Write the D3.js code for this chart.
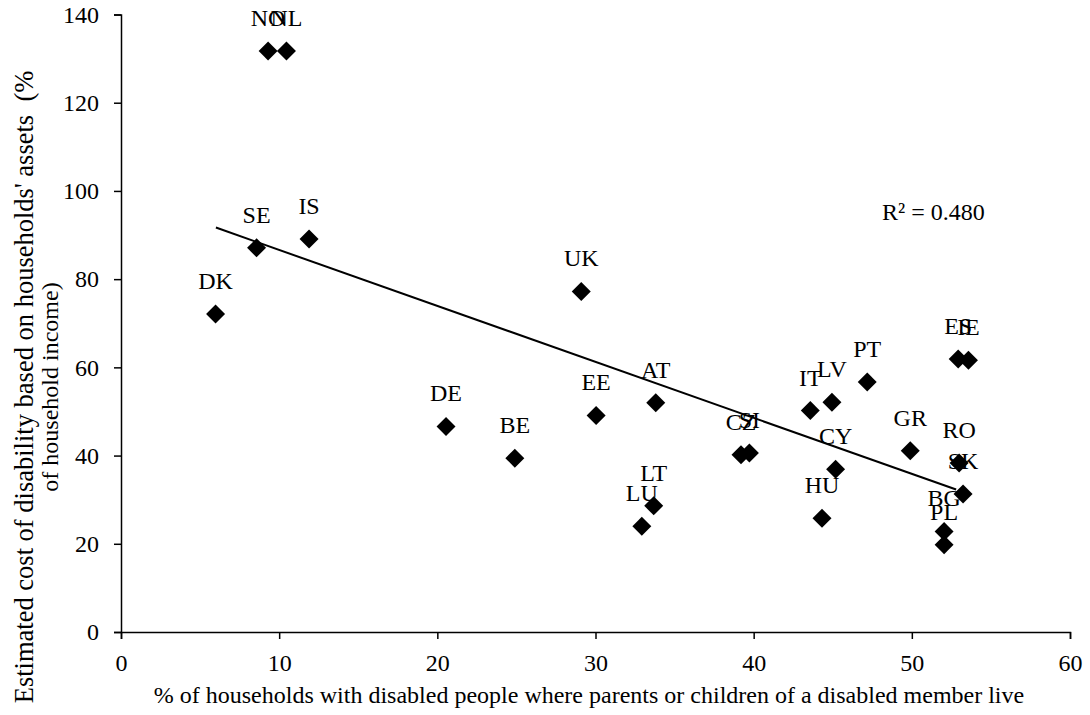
<!DOCTYPE html>
<html>
<head>
<meta charset="utf-8">
<script src="https://cdn.jsdelivr.net/npm/d3@7"></script>
<style>
  body { margin: 0; background: #fff; }
  text { font-family: "Liberation Serif", "Times New Roman", serif; }
</style>
</head>
<body>
<div id="chart"></div>
<script>
// data
var countries = ["DK", "SE", "NO", "NL", "IS", "UK", "DE", "BE", "EE", "AT", "LU", "LT", "CZ",
                 "SI", "IT", "LV", "CY", "HU", "PT", "GR", "ES", "IE", "RO", "SK", "BG", "PL"];
var shareLivingTogether = [5.98, 8.57, 9.30, 10.46, 11.89, 29.10, 20.55, 24.90, 30.04, 33.81, 32.93, 33.68, 39.20,
                           39.73, 43.58, 44.95, 45.18, 44.32, 47.18, 49.90, 52.93, 53.58, 52.99, 53.24, 52.04, 52.04];
var costOfDisability = [72.1, 87.1, 131.7, 131.7, 89.1, 77.2, 46.6, 39.4, 49.1, 52.0, 24.0, 28.6, 40.2,
                        40.6, 50.2, 52.1, 36.9, 25.8, 56.7, 41.1, 61.9, 61.6, 38.3, 31.3, 22.8, 19.8];
var xTicks = [0, 10, 20, 30, 40, 50, 60];
var yTicks = [0, 20, 40, 60, 80, 100, 120, 140];
var trendX = [6.0, 52.8];
var trendY = [91.7, 32.3];
var rSquaredLabel = "R\u00b2 = 0.480";

var width = 1090,
    height = 715,
    plot_left = 121,
    plot_right = 1070,
    plot_top = 14.5,
    plot_bottom = 632,
    tick_size = 7,
    font_size = 24,
    marker_size = 180;

var points = countries.map(function(c, i) {
    return {name: c, x: shareLivingTogether[i], y: costOfDisability[i]};
});

var svg = d3.select("#chart").append("svg")
    .attr("width", width)
    .attr("height", height);

var x = d3.scaleLinear().domain([0, 60]).range([plot_left, plot_right]);
var y = d3.scaleLinear().domain([0, 140]).range([plot_bottom, plot_top]);

// axes
var xAxis = d3.axisBottom(x).tickValues(xTicks).tickSize(tick_size).tickPadding(15);
var yAxis = d3.axisLeft(y).tickValues(yTicks).tickSize(tick_size).tickPadding(15);
svg.append("g")
    .attr("transform", "translate(0," + plot_bottom + ")")
    .call(xAxis);
svg.append("g")
    .attr("transform", "translate(" + plot_left + ",0)")
    .call(yAxis);
svg.selectAll(".domain, .tick line")
    .attr("stroke", "#000")
    .attr("stroke-width", 1.5);
svg.selectAll(".tick text")
    .attr("font-family", "Liberation Serif")
    .attr("font-size", font_size)
    .attr("fill", "#000");

// trend line
var line = d3.line()
    .x(function(d) { return x(d[0]); })
    .y(function(d) { return y(d[1]); });
svg.append("path")
    .attr("d", line(d3.zip(trendX, trendY)))
    .attr("fill", "none")
    .attr("stroke", "#000")
    .attr("stroke-width", 2);

// markers
svg.append("g").selectAll("path")
    .data(points)
    .join("path")
    .attr("d", d3.symbol().type(d3.symbolSquare).size(marker_size))
    .attr("transform", function(d) { return "translate(" + x(d.x) + "," + y(d.y) + ") rotate(45)"; })
    .attr("fill", "#000");

// country labels
svg.append("g").selectAll("text")
    .data(points)
    .join("text")
    .attr("x", function(d) { return x(d.x); })
    .attr("y", function(d) { return y(d.y) - 25; })
    .attr("text-anchor", "middle")
    .attr("font-size", font_size)
    .text(function(d) { return d.name; });

svg.append("text")
    .attr("x", 882)
    .attr("y", 220)
    .attr("font-size", font_size)
    .text(rSquaredLabel);

// axis titles
svg.append("text")
    .attr("x", 589)
    .attr("y", 703)
    .attr("text-anchor", "middle")
    .attr("font-size", font_size)
    .text("% of households with disabled people where parents or children of a disabled member live");

var yTitle = svg.append("text")
    .attr("transform", "translate(33,387) rotate(-90)")
    .attr("text-anchor", "middle");
yTitle.append("tspan")
    .attr("x", 0).attr("y", 0)
    .attr("font-size", 26.5)
    .style("white-space", "pre")
    .text("Estimated cost of disability based on households' assets  (%");
yTitle.append("tspan")
    .attr("x", 0).attr("y", 25)
    .attr("font-size", 24)
    .text("of household income)");
</script>
</body>
</html>
